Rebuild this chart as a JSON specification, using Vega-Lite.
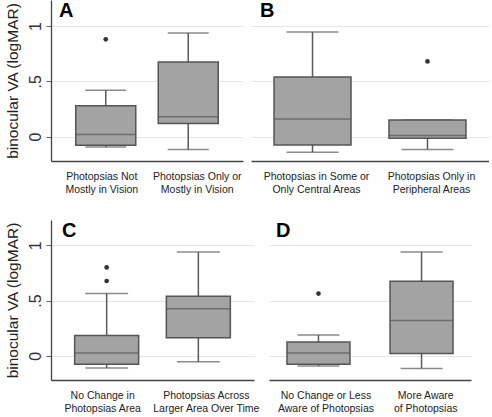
{
  "$schema": "https://vega.github.io/schema/vega-lite/v6.json",
  "background": "white",
  "padding": {"left": 5, "top": 0, "right": 0, "bottom": 0},
  "config": {
    "font": "Liberation Sans",
    "view": {"stroke": null},
    "axis": {"gridColor": "#e6e6e6", "gridWidth": 1, "domainColor": "#444444", "domainWidth": 1.3},
    "title": {"font": "Liberation Sans"}
  },
  "datasets": {
    "boxes": [
      {"panel": "A", "group": "Photopsias Not|Mostly in Vision", "lo": -0.093, "q1": -0.078, "med": 0.02, "q3": 0.28, "hi": 0.42},
      {"panel": "A", "group": "Photopsias Only or|Mostly in Vision", "lo": -0.117, "q1": 0.12, "med": 0.18, "q3": 0.675, "hi": 0.937},
      {"panel": "B", "group": "Photopsias in Some or|Only Central Areas", "lo": -0.14, "q1": -0.075, "med": 0.16, "q3": 0.54, "hi": 0.945},
      {"panel": "B", "group": "Photopsias Only in|Peripheral Areas", "lo": -0.115, "q1": -0.015, "med": 0.01, "q3": 0.15, "hi": 0.15},
      {"panel": "C", "group": "No Change in|Photopsias Area", "lo": -0.111, "q1": -0.078, "med": 0.024, "q3": 0.183, "hi": 0.563},
      {"panel": "C", "group": "Photopsias Across|Larger Area Over Time", "lo": -0.054, "q1": 0.163, "med": 0.425, "q3": 0.539, "hi": 0.94},
      {"panel": "D", "group": "No Change or Less|Aware of Photopsias", "lo": -0.093, "q1": -0.078, "med": 0.024, "q3": 0.124, "hi": 0.187},
      {"panel": "D", "group": "More Aware|of Photopsias", "lo": -0.115, "q1": 0.02, "med": 0.32, "q3": 0.675, "hi": 0.94}
    ],
    "outliers": [
      {"panel": "A", "group": "Photopsias Not|Mostly in Vision", "value": 0.88},
      {"panel": "B", "group": "Photopsias Only in|Peripheral Areas", "value": 0.68},
      {"panel": "C", "group": "No Change in|Photopsias Area", "value": 0.80},
      {"panel": "C", "group": "No Change in|Photopsias Area", "value": 0.677},
      {"panel": "D", "group": "No Change or Less|Aware of Photopsias", "value": 0.563}
    ]
  },
  "spacing": 25,
  "vconcat": [
    {
      "spacing": 8,
      "hconcat": [
        {
          "width": 192, "height": 161,
          "title": {"text": "A", "anchor": "start", "frame": "group", "offset": 0, "dy": 21, "dx": 8, "fontSize": 20, "fontWeight": "bold", "color": "#000000"},
          "encoding": {
            "x": {"field": "group", "type": "nominal",
              "scale": {"type": "point", "padding": 0.664, "domain": ["Photopsias Not|Mostly in Vision", "Photopsias Only or|Mostly in Vision"]},
              "axis": {"title": null, "labelExpr": "split(datum.label, '|')", "labelAngle": 0, "ticks": false, "labelPadding": 10, "labelFontSize": 10.5, "labelLineHeight": 13, "labelBaseline": "top", "labelColor": "#222222",
                "labelOffset": {"condition": {"test": "datum.value == 'Photopsias Not|Mostly in Vision'", "value": -4.5}, "value": 8.5}}}
          },
          "layer": [
            {"data": {"name": "boxes"}, "transform": [{"filter": "datum.panel == 'A'"}],
             "mark": {"type": "rule", "color": "#5a5a5a", "strokeWidth": 1.5},
             "encoding": {
               "y": {"field": "lo", "type": "quantitative", "scale": {"domain": [-0.22, 1.235], "nice": false, "zero": false},
                 "axis": {"title": "binocular VA (logMAR)", "values": [0, 0.5, 1], "labelExpr": "datum.value == 0 ? '0' : datum.value == 1 ? '1' : '.5'", "labelAngle": -90, "labelAlign": "center", "labelBaseline": "bottom", "labelFontSize": 16, "labelColor": "#333333", "labelPadding": 3, "tickSize": 5, "tickColor": "#666666", "titleFontSize": 15.5, "titleFontWeight": "normal", "titleColor": "#222222", "titlePadding": 7, "grid": true}},
               "y2": {"field": "hi"}
             }},
            {"data": {"name": "boxes"}, "transform": [{"filter": "datum.panel == 'A'"}],
             "mark": {"type": "tick", "color": "#5a5a5a", "thickness": 1.5, "size": 41},
             "encoding": {"y": {"field": "lo", "type": "quantitative"}}},
            {"data": {"name": "boxes"}, "transform": [{"filter": "datum.panel == 'A'"}],
             "mark": {"type": "tick", "color": "#5a5a5a", "thickness": 1.5, "size": 41},
             "encoding": {"y": {"field": "hi", "type": "quantitative"}}},
            {"data": {"name": "boxes"}, "transform": [{"filter": "datum.panel == 'A'"}],
             "mark": {"type": "bar", "width": 60, "fill": "#a3a3a3", "stroke": "#555555", "strokeWidth": 1.5},
             "encoding": {"y": {"field": "q1", "type": "quantitative"}, "y2": {"field": "q3"}}},
            {"data": {"name": "boxes"}, "transform": [{"filter": "datum.panel == 'A'"}],
             "mark": {"type": "tick", "color": "#555555", "thickness": 1.5, "size": 60},
             "encoding": {"y": {"field": "med", "type": "quantitative"}}},
            {"data": {"name": "outliers"}, "transform": [{"filter": "datum.panel == 'A'"}],
             "mark": {"type": "point", "filled": true, "color": "#333333", "size": 22, "opacity": 1},
             "encoding": {"y": {"field": "value", "type": "quantitative"}}}
          ]
        },
        {
          "width": 238, "height": 161,
          "title": {"text": "B", "anchor": "start", "frame": "group", "offset": 0, "dy": 21, "dx": 9, "fontSize": 20, "fontWeight": "bold", "color": "#000000"},
          "encoding": {
            "x": {"field": "group", "type": "nominal",
              "scale": {"type": "point", "padding": 0.535, "domain": ["Photopsias in Some or|Only Central Areas", "Photopsias Only in|Peripheral Areas"]},
              "axis": {"title": null, "labelExpr": "split(datum.label, '|')", "labelAngle": 0, "ticks": false, "labelPadding": 10, "labelFontSize": 10.5, "labelLineHeight": 13, "labelBaseline": "top", "labelColor": "#222222",
                "labelOffset": 3.5}}
          },
          "layer": [
            {"data": {"name": "boxes"}, "transform": [{"filter": "datum.panel == 'B'"}],
             "mark": {"type": "rule", "color": "#5a5a5a", "strokeWidth": 1.5},
             "encoding": {
               "y": {"field": "lo", "type": "quantitative", "scale": {"domain": [-0.22, 1.235], "nice": false, "zero": false},
                 "axis": {"title": null, "values": [0, 0.5, 1], "labels": false, "ticks": false, "domain": false, "grid": true}},
               "y2": {"field": "hi"}
             }},
            {"data": {"name": "boxes"}, "transform": [{"filter": "datum.panel == 'B'"}],
             "mark": {"type": "tick", "color": "#5a5a5a", "thickness": 1.5, "size": 52},
             "encoding": {"y": {"field": "lo", "type": "quantitative"}}},
            {"data": {"name": "boxes"}, "transform": [{"filter": "datum.panel == 'B'"}],
             "mark": {"type": "tick", "color": "#5a5a5a", "thickness": 1.5, "size": 52},
             "encoding": {"y": {"field": "hi", "type": "quantitative"}}},
            {"data": {"name": "boxes"}, "transform": [{"filter": "datum.panel == 'B'"}],
             "mark": {"type": "bar", "width": 77, "fill": "#a3a3a3", "stroke": "#555555", "strokeWidth": 1.5},
             "encoding": {"y": {"field": "q1", "type": "quantitative"}, "y2": {"field": "q3"}}},
            {"data": {"name": "boxes"}, "transform": [{"filter": "datum.panel == 'B'"}],
             "mark": {"type": "tick", "color": "#555555", "thickness": 1.5, "size": 77},
             "encoding": {"y": {"field": "med", "type": "quantitative"}}},
            {"data": {"name": "outliers"}, "transform": [{"filter": "datum.panel == 'B'"}],
             "mark": {"type": "point", "filled": true, "color": "#333333", "size": 22, "opacity": 1},
             "encoding": {"y": {"field": "value", "type": "quantitative"}}}
          ]
        }
      ]
    },
    {
      "spacing": 9,
      "hconcat": [
        {
          "width": 203, "height": 160,
          "title": {"text": "C", "anchor": "start", "frame": "group", "offset": 0, "dy": 21, "dx": 11, "fontSize": 20, "fontWeight": "bold", "color": "#000000"},
          "encoding": {
            "x": {"field": "group", "type": "nominal",
              "scale": {"type": "point", "padding": 0.607, "domain": ["No Change in|Photopsias Area", "Photopsias Across|Larger Area Over Time"]},
              "axis": {"title": null, "labelExpr": "split(datum.label, '|')", "labelAngle": 0, "ticks": false, "labelPadding": 10, "labelFontSize": 10.5, "labelLineHeight": 13, "labelBaseline": "top", "labelColor": "#222222",
                "labelOffset": {"condition": {"test": "datum.value == 'No Change in|Photopsias Area'", "value": -4.5}, "value": 7.5}}}
          },
          "layer": [
            {"data": {"name": "boxes"}, "transform": [{"filter": "datum.panel == 'C'"}],
             "mark": {"type": "rule", "color": "#5a5a5a", "strokeWidth": 1.5},
             "encoding": {
               "y": {"field": "lo", "type": "quantitative", "scale": {"domain": [-0.22, 1.23], "nice": false, "zero": false},
                 "axis": {"title": "binocular VA (logMAR)", "values": [0, 0.5, 1], "labelExpr": "datum.value == 0 ? '0' : datum.value == 1 ? '1' : '.5'", "labelAngle": -90, "labelAlign": "center", "labelBaseline": "bottom", "labelFontSize": 16, "labelColor": "#333333", "labelPadding": 3, "tickSize": 5, "tickColor": "#666666", "titleFontSize": 15.5, "titleFontWeight": "normal", "titleColor": "#222222", "titlePadding": 7, "grid": true}},
               "y2": {"field": "hi"}
             }},
            {"data": {"name": "boxes"}, "transform": [{"filter": "datum.panel == 'C'"}],
             "mark": {"type": "tick", "color": "#5a5a5a", "thickness": 1.5, "size": 43},
             "encoding": {"y": {"field": "lo", "type": "quantitative"}}},
            {"data": {"name": "boxes"}, "transform": [{"filter": "datum.panel == 'C'"}],
             "mark": {"type": "tick", "color": "#5a5a5a", "thickness": 1.5, "size": 43},
             "encoding": {"y": {"field": "hi", "type": "quantitative"}}},
            {"data": {"name": "boxes"}, "transform": [{"filter": "datum.panel == 'C'"}],
             "mark": {"type": "bar", "width": 64, "fill": "#a3a3a3", "stroke": "#555555", "strokeWidth": 1.5},
             "encoding": {"y": {"field": "q1", "type": "quantitative"}, "y2": {"field": "q3"}}},
            {"data": {"name": "boxes"}, "transform": [{"filter": "datum.panel == 'C'"}],
             "mark": {"type": "tick", "color": "#555555", "thickness": 1.5, "size": 64},
             "encoding": {"y": {"field": "med", "type": "quantitative"}}},
            {"data": {"name": "outliers"}, "transform": [{"filter": "datum.panel == 'C'"}],
             "mark": {"type": "point", "filled": true, "color": "#333333", "size": 22, "opacity": 1},
             "encoding": {"y": {"field": "value", "type": "quantitative"}}}
          ]
        },
        {
          "width": 202, "height": 160,
          "title": {"text": "D", "anchor": "start", "frame": "group", "offset": 0, "dy": 21, "dx": 7, "fontSize": 20, "fontWeight": "bold", "color": "#000000"},
          "encoding": {
            "x": {"field": "group", "type": "nominal",
              "scale": {"type": "point", "padding": 0.48, "domain": ["No Change or Less|Aware of Photopsias", "More Aware|of Photopsias"]},
              "axis": {"title": null, "labelExpr": "split(datum.label, '|')", "labelAngle": 0, "ticks": false, "labelPadding": 10, "labelFontSize": 10.5, "labelLineHeight": 13, "labelBaseline": "top", "labelColor": "#222222",
                "labelOffset": {"condition": {"test": "datum.value == 'No Change or Less|Aware of Photopsias'", "value": 7}, "value": 3.7}}}
          },
          "layer": [
            {"data": {"name": "boxes"}, "transform": [{"filter": "datum.panel == 'D'"}],
             "mark": {"type": "rule", "color": "#5a5a5a", "strokeWidth": 1.5},
             "encoding": {
               "y": {"field": "lo", "type": "quantitative", "scale": {"domain": [-0.22, 1.23], "nice": false, "zero": false},
                 "axis": {"title": null, "values": [0, 0.5, 1], "labels": false, "ticks": false, "domain": false, "grid": true}},
               "y2": {"field": "hi"}
             }},
            {"data": {"name": "boxes"}, "transform": [{"filter": "datum.panel == 'D'"}],
             "mark": {"type": "tick", "color": "#5a5a5a", "thickness": 1.5, "size": 42},
             "encoding": {"y": {"field": "lo", "type": "quantitative"}}},
            {"data": {"name": "boxes"}, "transform": [{"filter": "datum.panel == 'D'"}],
             "mark": {"type": "tick", "color": "#5a5a5a", "thickness": 1.5, "size": 42},
             "encoding": {"y": {"field": "hi", "type": "quantitative"}}},
            {"data": {"name": "boxes"}, "transform": [{"filter": "datum.panel == 'D'"}],
             "mark": {"type": "bar", "width": 63, "fill": "#a3a3a3", "stroke": "#555555", "strokeWidth": 1.5},
             "encoding": {"y": {"field": "q1", "type": "quantitative"}, "y2": {"field": "q3"}}},
            {"data": {"name": "boxes"}, "transform": [{"filter": "datum.panel == 'D'"}],
             "mark": {"type": "tick", "color": "#555555", "thickness": 1.5, "size": 63},
             "encoding": {"y": {"field": "med", "type": "quantitative"}}},
            {"data": {"name": "outliers"}, "transform": [{"filter": "datum.panel == 'D'"}],
             "mark": {"type": "point", "filled": true, "color": "#333333", "size": 22, "opacity": 1},
             "encoding": {"y": {"field": "value", "type": "quantitative"}}}
          ]
        }
      ]
    }
  ]
}
